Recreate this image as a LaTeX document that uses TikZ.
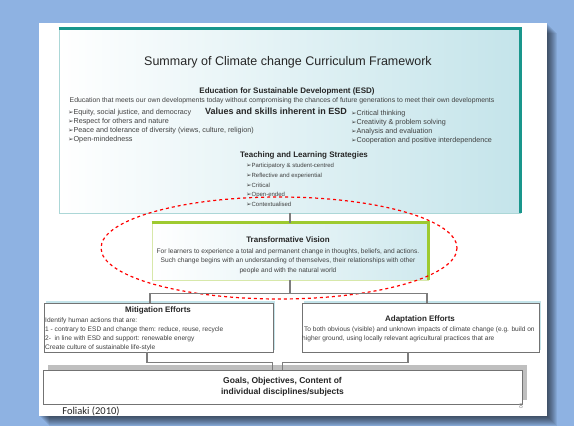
\documentclass[tikz,border=0pt]{standalone}
\usepackage{fontspec}
\setmainfont{Liberation Sans}
\newfontfamily\arrowfont{DejaVu Sans}
\newfontfamily\notefont{Carlito}
\usetikzlibrary{positioning,shapes.geometric}
\definecolor{slidebg}{RGB}{142,178,226}
\definecolor{tealedge}{RGB}{25,150,140}
\definecolor{tealthin}{RGB}{172,215,215}
\definecolor{tealfill}{RGB}{196,228,234}
\definecolor{greenedge}{RGB}{158,202,48}
\definecolor{greenthin}{RGB}{215,232,170}
\definecolor{linkgray}{RGB}{125,125,125}
\newcommand{\bul}{{\arrowfont\fontsize{6.5}{5}\selectfont ➢}}
\newcommand{\fs}[2]{\fontsize{#1}{#2}\selectfont}

\begin{document}
\begin{tikzpicture}[x=1pt,y=-1pt]
    \tikzstyle{every node}+=[inner sep=0pt]
    \tikzstyle{head}=[font=\bfseries\fs{8}{9}, text=black!85]
    \tikzstyle{small}=[font=\fs{6.6}{7}, text=black!75]
    \tikzstyle{item}=[font=\fs{7.2}{8}, text=black!75, anchor=west]
    \tikzstyle{box}=[draw=black!55, line width=0.8pt, fill=white]
    \tikzstyle{link}=[draw=linkgray, line width=1.5pt]
    % background and slide
    \fill [slidebg] (0,0) rectangle (574,426);
    \useasboundingbox (0,0) rectangle (574,426);
    \foreach \d in {1,...,10}
        \fill [black, opacity=0.07] (39+\d,23+\d) rectangle (547+\d,416+\d);
    \fill [white] (39,23) rectangle (547,416);
    % summary box
    \node [draw=tealthin, line width=0.8pt, left color=white, right color=tealfill,
           minimum width=461pt, minimum height=184pt] (summary) at (289.5,121) {};
    \draw [tealedge, line width=3pt] (summary.north west) -- (summary.north east) -- (summary.south east);
    \node [font=\fs{12.5}{14}, text=black!85] (title) at (288,62) {Summary of Climate change Curriculum Framework};
    \node [head] (esd) at (287,91) {Education for Sustainable Development (ESD)};
    \node [font=\fs{6.85}{8}, text=black!75] (esddef) at (282,101) {Education that meets our own developments today without compromising the chances of future generations to meet their own developments};
    \node [head, font=\bfseries\fs{9}{10}] (values) at (276,111) {Values and skills inherent in ESD};
    \foreach \t [count=\i] in {{Equity,  social justice, and democracy},Respect for others and nature,
        {Peace and tolerance of diversity (views, culture, religion)},Open-mindedness}
        \node [item] (valL\i) at (68,104+9*\i) {\bul\t};
    \foreach \t [count=\i] in {Critical thinking,Creativity \& problem solving,Analysis and evaluation,
        Cooperation and positive interdependence}
        \node [item] (valR\i) at (351,105+9*\i) {\bul\t};
    \node [head] (teach) at (304,155) {Teaching and Learning Strategies};
    \foreach \t [count=\i] in {Participatory \& student-centred,Reflective and experiential,Critical,
        Open-ended,Contextualised}
        \node [item, font=\fs{6}{7}] (teach\i) at (246,156.5+9.5*\i) {\bul\t};
    % transformative vision
    \node [draw=greenthin, line width=0.8pt, left color=white, right color=tealfill!80,
           minimum width=276pt, minimum height=57pt] (vision) at (290,251.5) {};
    \draw [greenedge, line width=2.5pt] (vision.north west) -- (vision.north east) -- (vision.south east);
    \node [head] (visiont) at (288,240) {Transformative Vision};
    \node [small, align=center, font=\fs{6.6}{9.6}] (visiond) at (288,261) {For learners to experience a total and permanent change in thoughts, beliefs, and actions.\\
        Such change begins with an understanding of themselves, their relationships with other\\
        people and with the natural world};
    \draw [red, dashed, line width=1.2pt] (279,248) ellipse [x radius=178, y radius=51];
    % efforts
    \fill [tealfill] (46,301) rectangle (275,350);
    \fill [tealfill] (304,301) rectangle (541,350);
    \node [box, minimum width=229pt, minimum height=49pt] (mitig) at (158.5,327.5) {};
    \node [box, minimum width=237pt, minimum height=49pt] (adapt) at (420.5,327.5) {};
    \node [head] (mitigt) at (158,310) {Mitigation Efforts};
    \node [small, align=left, anchor=west, font=\fs{6.6}{9}] (mitigd) at (45,334.5) {Identify human actions that are:\\
        1 - contrary to ESD and change them: reduce, reuse, recycle\\
        2-\ \ in line with ESD and support: renewable energy\\
        Create culture of sustainable life-style};
    \node [head] (adaptt) at (420,319) {Adaptation Efforts};
    \node [small, align=left, anchor=west, font=\fs{6.6}{9}] (adaptd) at (302,334.5) {\ To both obvious (visible) and unknown impacts of climate change (e.g. build on\\
        higher ground, using locally relevant agricultural practices that are};
    % goals
    \fill [black!25] (48,365) rectangle (527,400);
    \node [box, minimum width=479pt, minimum height=34pt, align=center,
           font=\bfseries\fs{8.5}{11}, text=black!85] (goals) at (282.5,387)
        {Goals, Objectives, Content of\\individual disciplines/subjects};
    % connectors
    \draw [link] (vision.north) -- (vision.north |- summary.south);
    \draw [link] (vision.south) -- ++(0,13) coordinate (split);
    \draw [link] ([xshift=-8.5pt]mitig.north) |- (split) -| ([xshift=6.5pt]adapt.north);
    \draw [link] ([xshift=-11.5pt]mitig.south) -- ++(0,10) -| ([xshift=-10pt]goals.north);
    \draw [link] ([xshift=-12.5pt]adapt.south) -- ++(0,10) -| ([xshift=0pt]goals.north);
    % footer
    \node [font=\notefont\fs{10.5}{11}, text=black!85] (source) at (91,411) {Foliaki (2010)};
    \node [font=\fs{7}{8}, text=black!40] (page) at (521,406) {8};
\end{tikzpicture}
\end{document}
